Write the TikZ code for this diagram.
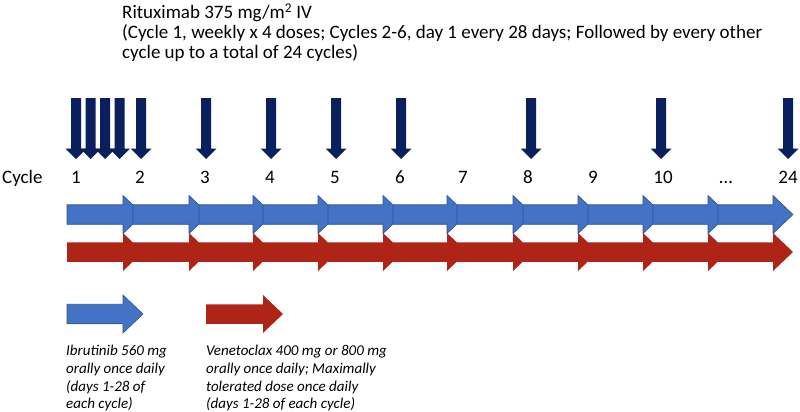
\documentclass[tikz,border=0pt]{standalone}
\usepackage{fontspec}
\setmainfont{Carlito}
\usetikzlibrary{positioning}
\definecolor{ibrublue}{HTML}{4472C4}
\definecolor{ibruedge}{HTML}{2F528F}
\definecolor{venered}{HTML}{AE2417}
\definecolor{rituxnavy}{HTML}{0A1F5E}
% block arrow: style, start x, tip x, head length, centre y
\newcommand{\segarrow}[5]{%
  \path[#1] (#2,#5-9.75) -- (#3-#4,#5-9.75) -- (#3-#4,#5-19) -- (#3,#5)
    -- (#3-#4,#5+19) -- (#3-#4,#5+9.75) -- (#2,#5+9.75) -- cycle;}

\begin{document}
\begin{tikzpicture}[x=1pt,y=-1pt,
  ibruarrow/.style={fill=ibrublue,draw=ibruedge,line width=0.6pt},
  venearrow/.style={fill=venered},
  dosearrow/.style={fill=rituxnavy},
  cyclelabel/.style={anchor=base,inner sep=0pt,font=\fontsize{19}{20}\selectfont},
  titletext/.style={anchor=north west,inner sep=0pt,align=left,font=\fontsize{19}{20}\selectfont},
  legendtext/.style={anchor=north west,inner sep=0pt,align=left,font=\itshape\fontsize{15}{17.7}\selectfont}]
\useasboundingbox (0,0) rectangle (800,412);
% rituximab dosing
\node[titletext] (ritux) at (122,3.5)
  {Rituximab 375 mg/m\textsuperscript{2} IV\\
   (Cycle 1, weekly x 4 doses; Cycles 2-6, day 1 every 28 days; Followed by every other\\
   cycle up to a total of 24 cycles)};
\foreach \xd in {76,90.5,105,119.5,141,206,271,336,401,531,661,788}
  {\path[dosearrow] (\xd-5,98) -- (\xd+5,98) -- (\xd+5,148.5) -- (\xd+10.5,148.5)
    -- (\xd,159) -- (\xd-10.5,148.5) -- (\xd-5,148.5) -- cycle;}
% cycle numbers
\node[cyclelabel,anchor=base west] (cyc) at (2,183.5) {Cycle};
\foreach \n/\xl in {1/76,2/140,3/205,4/270,5/335,6/400,7/463,8/528,9/593,10/663,24/788}
  {\node[cyclelabel] (c\n) at (\xl,183.5) {\n};}
\node[cyclelabel] (cdots) at (726,183.5) {…};
% ibrutinib and venetoclax cycles (each head runs under the next shaft)
\foreach \xs/\xn in {67/133,133/199,199/263,263/328,328/393,393/457,457/523,523/588,588/653,653/718}
  {\segarrow{ibruarrow}{\xs}{\xn+10}{20}{214.5}}
\segarrow{ibruarrow}{718}{793}{20}{214.5}
\foreach \xs/\xn in {67/133,133/199,199/263,263/328,328/393,393/457,457/523,523/588,588/653,653/718}
  {\segarrow{venearrow}{\xs}{\xn+10}{20}{252}}
\segarrow{venearrow}{718}{793}{20}{252}
% legend
\segarrow{ibruarrow}{67}{143}{20}{314}
\segarrow{venearrow}{206}{283}{20}{314}
\node[legendtext] (ibru) at (66,345)
  {Ibrutinib 560 mg\\orally once daily\\(days 1-28 of\\each cycle)};
\node[legendtext] (vene) at (206,345)
  {Venetoclax 400 mg or 800 mg\\orally once daily; Maximally\\tolerated dose once daily\\(days 1-28 of each cycle)};
\end{tikzpicture}
\end{document}
